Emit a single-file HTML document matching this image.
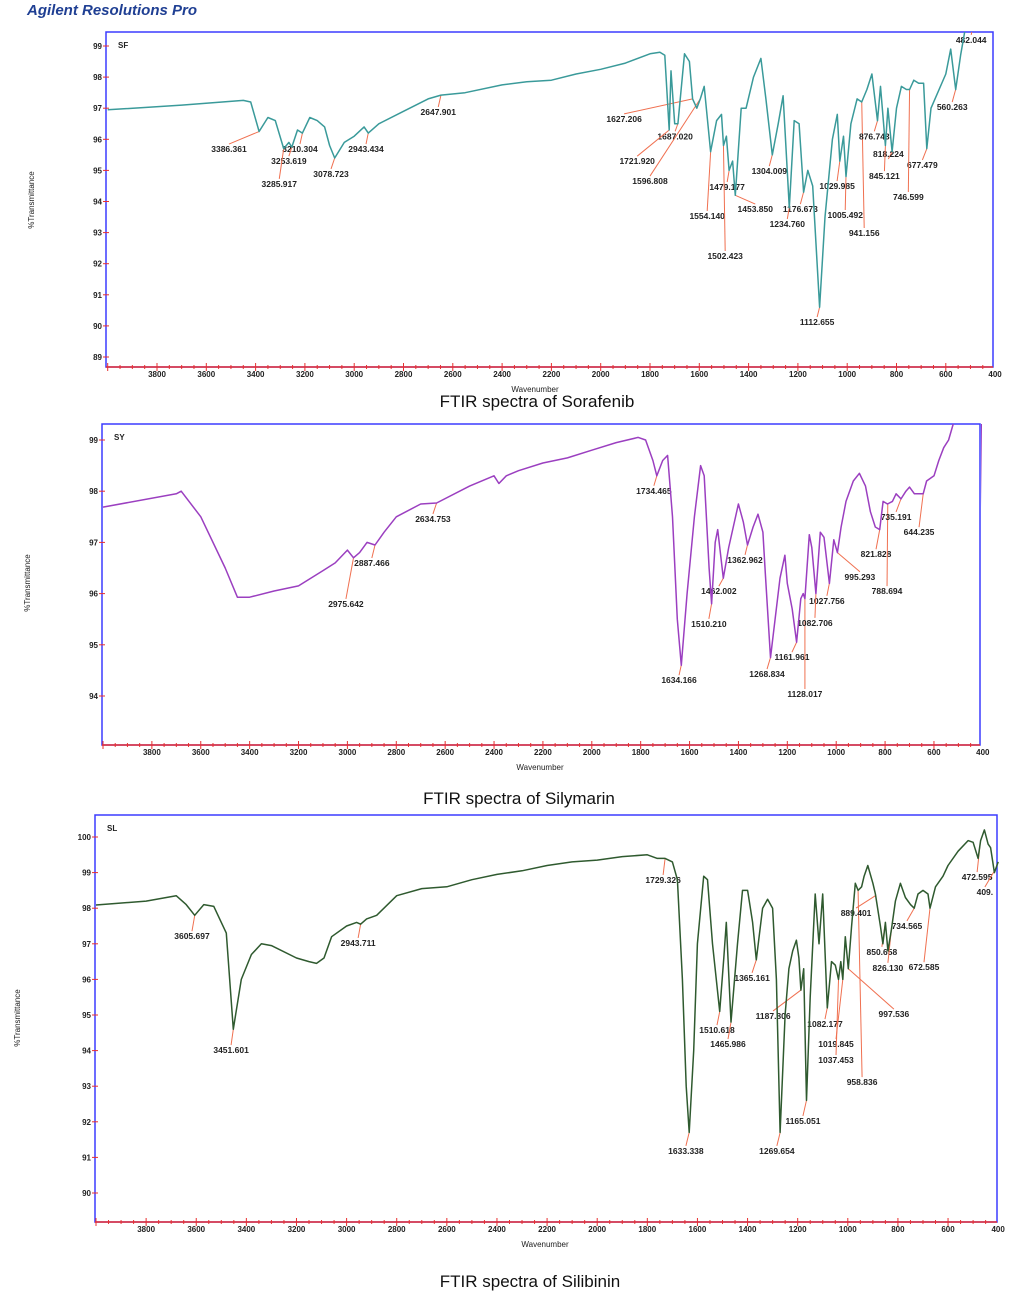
<!DOCTYPE html>
<html><head><meta charset="utf-8"><style>
html,body{margin:0;padding:0;background:#fff;width:1031px;height:1297px;overflow:hidden;font-family:"Liberation Sans",sans-serif}
svg{position:absolute;left:0;top:0}
</style></head><body>
<svg id="s" width="1031" height="1297" xmlns="http://www.w3.org/2000/svg">
<text x="27" y="15" font-size="15" font-weight="bold" font-style="italic" fill="#1f3f93">Agilent Resolutions Pro</text>
<text x="537" y="407" text-anchor="middle" font-size="17" fill="#111">FTIR  spectra of Sorafenib</text>
<text x="519" y="804" text-anchor="middle" font-size="17" fill="#111">FTIR  spectra of Silymarin</text>
<text x="530" y="1287" text-anchor="middle" font-size="17" fill="#111">FTIR  spectra of Silibinin</text>
</svg>
<script>
// ---------- Sorafenib data ----------
const sfWn=[4000,3700,3450,3420,3386,3350,3320,3286,3265,3253,3230,3210,3180,3150,3120,3100,3079,3040,3000,2960,2943,2900,2800,2700,2648,2550,2400,2300,2200,2100,2000,1900,1800,1760,1740,1722,1715,1700,1687,1660,1640,1627,1610,1596,1580,1554,1530,1510,1502,1490,1479,1465,1454,1430,1410,1380,1350,1330,1304,1280,1260,1235,1215,1195,1177,1160,1140,1112,1090,1060,1040,1030,1015,1005,985,960,941,920,900,877,865,845,835,818,800,780,760,747,730,710,690,677,660,600,580,560,540,520,500,400];
const sfT=[96.95,97.1,97.25,97.2,96.25,96.7,96.6,95.7,95.9,95.75,96.3,96.2,96.7,96.6,96.4,95.8,95.4,95.9,96.1,96.4,96.2,96.5,96.9,97.3,97.42,97.5,97.75,97.85,97.9,98.1,98.25,98.45,98.75,98.8,98.7,96.3,98.2,96.5,96.5,98.75,98.5,97.3,97.0,97.3,97.7,95.6,96.6,96.8,95.8,96.1,95.0,95.3,94.2,97.0,97.0,98.0,98.6,97.3,95.5,96.5,97.4,93.8,96.6,96.5,94.3,95.0,94.5,90.6,93.5,96.0,96.8,95.3,96.1,94.8,96.5,97.3,97.2,97.6,98.1,96.6,97.7,95.8,97.0,95.6,97.0,97.7,97.6,97.6,97.9,97.8,97.8,95.7,97.0,98.1,98.9,97.6,98.7,99.6,100,100];
const sfLabels=["3386.361","3210.304","3253.619","3285.917","3078.723","2943.434","2647.901","1627.206","1687.020","1721.920","1596.808","1554.140","1479.177","1453.850","1502.423","1304.009","1176.673","1234.760","1029.985","1005.492","941.156","1112.655","876.743","818.224","845.121","677.479","746.599","560.263","482.044"];
const sfPeakWn=[3386,3210,3253,3286,3079,2943,2648,1627,1687,1722,1596,1554,1479,1454,1502,1304,1177,1235,1030,1005,941,1112,877,818,845,677,747,560,482];
const sfLabelWn=[3508,3220,3265,3304,3094,2952,2659,1905,1698,1852,1800,1568,1487,1373,1495,1316,1190,1243,1041,1008,931,1122,890,833,849,695,752,574,497];
const sfLabelT=[95.59,95.59,95.2,94.47,94.79,95.59,96.78,96.56,96.0,95.2,94.56,93.44,94.37,93.66,92.15,94.88,93.66,93.18,94.4,93.47,92.89,90.03,96.0,95.43,94.72,95.08,94.05,96.94,99.1];
const sfYTicks=[89,90,91,92,93,94,95,96,97,98,99];
// ---------- Silymarin data ----------
const syWn=[4000,3700,3680,3600,3500,3450,3400,3300,3200,3100,3050,3000,2975,2950,2920,2887,2850,2800,2700,2635,2500,2400,2380,2350,2300,2200,2100,2000,1900,1810,1780,1750,1734,1710,1690,1670,1650,1634,1610,1580,1555,1540,1520,1510,1495,1485,1462,1440,1400,1380,1363,1340,1320,1300,1290,1269,1250,1230,1210,1200,1180,1162,1145,1135,1128,1110,1100,1083,1065,1050,1028,1010,995,980,960,930,905,880,860,840,822,808,790,770,755,735,715,700,680,660,644,630,600,580,560,540,510,405,400];
const syT=[97.69,97.95,98.0,97.5,96.5,95.93,95.93,96.05,96.15,96.45,96.6,96.85,96.7,96.8,97.0,96.95,97.2,97.5,97.75,97.77,98.1,98.3,98.15,98.3,98.4,98.55,98.65,98.8,98.95,99.05,99.0,98.6,98.3,98.6,98.7,97.5,95.5,94.6,96.0,97.5,98.5,98.3,96.5,95.8,97.0,97.25,96.3,96.9,97.75,97.4,96.95,97.3,97.55,97.2,96.4,94.75,95.5,96.3,96.75,96.2,95.7,95.05,95.9,96.0,95.9,97.15,96.9,96.0,97.2,97.1,96.2,97.05,96.8,97.3,97.8,98.2,98.35,98.1,97.6,97.3,97.25,97.8,97.75,97.8,97.95,97.85,98.0,98.08,97.95,97.95,97.95,98.2,98.3,98.6,98.85,99.0,99.5,99.5,97.6];
const syLabels=["1734.465","2634.753","2887.466","2975.642","1362.962","1462.002","1510.210","1634.166","1268.834","1161.961","1128.017","1027.756","1082.706","995.293","821.828","788.694","735.191","644.235"];
const syPeakWn=[1734,2635,2887,2975,1363,1462,1510,1634,1269,1162,1128,1028,1083,995,822,789,735,644];
const syLabelWn=[1746,2650,2900,3006,1373,1480,1521,1643,1283,1181,1128,1038,1087,903,837,792,755,661];
const syLabelT=[97.95,97.4,96.54,95.74,96.6,95.99,95.35,94.25,94.37,94.7,93.98,95.8,95.37,96.27,96.71,95.99,97.44,97.14];
const syYTicks=[94,95,96,97,98,99];
// ---------- Silibinin data ----------
const slWn=[4000,3800,3680,3640,3606,3570,3530,3480,3452,3420,3380,3340,3300,3200,3150,3120,3090,3060,3000,2960,2944,2920,2880,2800,2700,2600,2500,2400,2300,2200,2100,2000,1900,1800,1760,1729,1700,1680,1660,1645,1633,1615,1600,1575,1560,1540,1511,1495,1485,1466,1440,1420,1400,1380,1365,1340,1320,1300,1285,1270,1250,1235,1220,1205,1195,1187,1176,1165,1150,1130,1115,1100,1082,1065,1050,1037,1028,1020,1010,998,985,970,959,945,935,920,900,890,870,860,850,840,826,810,790,770,750,735,720,700,680,672,650,620,600,560,520,500,480,470,455,440,430,415,400];
const slT=[98.09,98.2,98.35,98.1,97.8,98.1,98.05,97.3,94.6,96.0,96.7,97.0,96.95,96.6,96.5,96.45,96.6,97.2,97.5,97.6,97.55,97.7,97.8,98.35,98.55,98.6,98.8,98.95,99.05,99.2,99.3,99.35,99.45,99.5,99.4,99.4,99.3,98.8,96.0,93.0,91.7,94.0,97.0,98.9,98.8,97.0,95.1,96.6,97.6,94.8,97.0,98.5,98.5,97.6,96.55,98.0,98.25,98.0,96.0,91.7,95.0,96.3,96.8,97.1,96.6,95.7,96.3,92.6,95.5,98.4,97.0,98.4,95.2,96.5,96.4,96.0,96.5,96.0,97.2,96.3,97.5,98.7,98.5,98.6,98.9,99.2,98.7,98.4,97.5,97.0,97.6,96.8,97.4,98.2,98.7,98.3,98.1,98.0,98.4,98.5,98.4,98.0,98.6,98.9,99.2,99.6,99.9,99.85,99.4,99.9,100.2,99.8,99.7,99.0,99.3];
const slLabels=["3605.697","3451.601","2943.711","1729.326","1633.338","1510.618","1465.986","1365.161","1187.806","1269.654","1165.051","1082.177","1019.845","1037.453","958.836","997.536","889.401","734.565","850.658","826.130","672.585","472.595","409."];
const slPeakWn=[3606,3452,2944,1729,1633,1511,1466,1365,1187,1270,1165,1082,1020,1037,959,998,889,735,850,826,672,472,409];
const slLabelWn=[3617,3461,2954,1737,1646,1522,1478,1382,1298,1283,1179,1091,1047,1047,943,816,967,764,864,840,696,484,453];
const slLabelT=[97.13,93.93,96.94,98.71,91.1,94.49,94.1,95.96,94.89,91.1,91.94,94.66,94.1,93.65,93.03,94.94,97.78,97.42,96.69,96.24,96.26,98.79,98.37];
const slYTicks=[90,91,92,93,94,95,96,97,98,99,100];
const xTicks=[3800,3600,3400,3200,3000,2800,2600,2400,2200,2000,1800,1600,1400,1200,1000,800,600,400];

const NS="http://www.w3.org/2000/svg";
const svg=document.getElementById('s');
function mk(tag,attrs,parent){const e=document.createElementNS(NS,tag);for(const k in attrs)e.setAttribute(k,attrs[k]);(parent||svg).appendChild(e);return e;}

function panel(p){
  const g=mk('g',{});
  
  
  const xS=w=>p.x4000+(4000-w)*p.pxPer100/100;
  const yS=t=>p.yRef-(t-p.tRef)*p.pxPerUnit;
  const interp=w=>{for(let i=0;i<p.wn.length-1;i++){const a=p.wn[i],b=p.wn[i+1];if(w<=a&&w>=b){const f=(a-w)/(a-b||1);return p.t[i]+(p.t[i+1]-p.t[i])*f;}}return p.t[p.t.length-1];};
  const fr=mk('rect',{x:p.left,y:p.top,width:p.right-p.left,height:p.bottom-p.top,fill:'none',stroke:'#3b3bff','stroke-width':1.5},g);
  
  
  const bl=mk('line',{x1:p.left,x2:p.right,y1:p.bottom,y2:p.bottom,stroke:'#e83030','stroke-width':1.5},g);
  
  
  for(let w=4000;w>=400;w-=50){const x=xS(w);if(x<p.left||x>p.right)continue;mk('line',{x1:x,x2:x,y1:p.bottom-(w%200===0?4:2),y2:p.bottom+(w%200===0?4:2),stroke:'#e83030','stroke-width':1},g);}
  xTicks.forEach(v=>{const t=mk('text',{x:xS(v),y:p.bottom+10,'text-anchor':'middle','font-size':8,'font-weight':'bold',fill:'#222'},g);t.textContent=v;
    
    });
  p.yTicks.forEach(v=>{const y=yS(v);mk('line',{x1:p.left-3,x2:p.left+3,y1:y,y2:y,stroke:'#e83030','stroke-width':1},g);
    const t=mk('text',{x:p.left-4,y:y+3,'text-anchor':'end','font-size':8,'font-weight':'bold',fill:'#222'},g);t.textContent=v;
    
    });
  const xt=mk('text',{x:p.xTitleX,y:p.bottom+25,'text-anchor':'middle','font-size':8,fill:'#222'},g);xt.textContent='Wavenumber';
  
  
  const yt=mk('text',{x:0,y:0,'text-anchor':'middle','font-size':8,fill:'#222',transform:`translate(${p.yTitleX},${p.yTitleY}) rotate(-90)`},g);yt.textContent='%Transmittance';
  
  
  const nm=mk('text',{x:p.left+12,y:p.top+16,'font-size':8,'font-weight':'bold',fill:'#222'},g);nm.textContent=p.name;
  
  
  const cp=mk('clipPath',{id:p.id+'clip'},g);mk('rect',{x:p.left,y:p.top,width:p.right-p.left+2,height:p.bottom-p.top},cp);
  p.peaks.forEach((pw,i)=>{
    const px=xS(pw),py=yS(interp(pw));
    const lx=xS(p.lwn[i]),ly=yS(p.lt[i]);
    const top=ly-8;
    const ln=mk('line',{x1:px,y1:py,x2:lx,y2:(top>py?top:ly+2),stroke:'#f07050','stroke-width':1,'clip-path':`url(#${p.id}clip)`},g);
    
    
    const t=mk('text',{x:lx,y:ly,'text-anchor':'middle','font-size':8.5,'font-weight':'bold',fill:'#222'},g);t.textContent=p.labels[i];
    
    
  });
  const d=p.wn.map((w,i)=>(i?'L':'M')+xS(w).toFixed(1)+','+yS(p.t[i]).toFixed(1)).join('');
  const path=mk('path',{d:d,fill:'none',stroke:p.color,'stroke-width':1.5,'stroke-linejoin':'round','clip-path':`url(#${p.id}clip)`},g);
  
  
}
panel({id:'sorafenib',name:'SF',wn:sfWn,t:sfT,peaks:sfPeakWn,lwn:sfLabelWn,lt:sfLabelT,labels:sfLabels,yTicks:sfYTicks,color:'#3a9a9a',
  left:106,right:993,top:32,bottom:367,x4000:107.7,pxPer100:24.65,yRef:46,tRef:99,pxPerUnit:31.1,xTitleX:535,yTitleX:34,yTitleY:200});
panel({id:'silymarin',name:'SY',wn:syWn,t:syT,peaks:syPeakWn,lwn:syLabelWn,lt:syLabelT,labels:syLabels,yTicks:syYTicks,color:'#9b3fc0',
  left:102,right:980,top:424,bottom:745,x4000:103,pxPer100:24.44,yRef:440,tRef:99,pxPerUnit:51.2,xTitleX:540,yTitleX:30,yTitleY:583});
panel({id:'silibinin',name:'SL',wn:slWn,t:slT,peaks:slPeakWn,lwn:slLabelWn,lt:slLabelT,labels:slLabels,yTicks:slYTicks,color:'#2f5a2f',
  left:95,right:997,top:815,bottom:1222,x4000:96,pxPer100:25.06,yRef:837,tRef:100,pxPerUnit:35.6,xTitleX:545,yTitleX:20,yTitleY:1018});
</script>
</body></html>
